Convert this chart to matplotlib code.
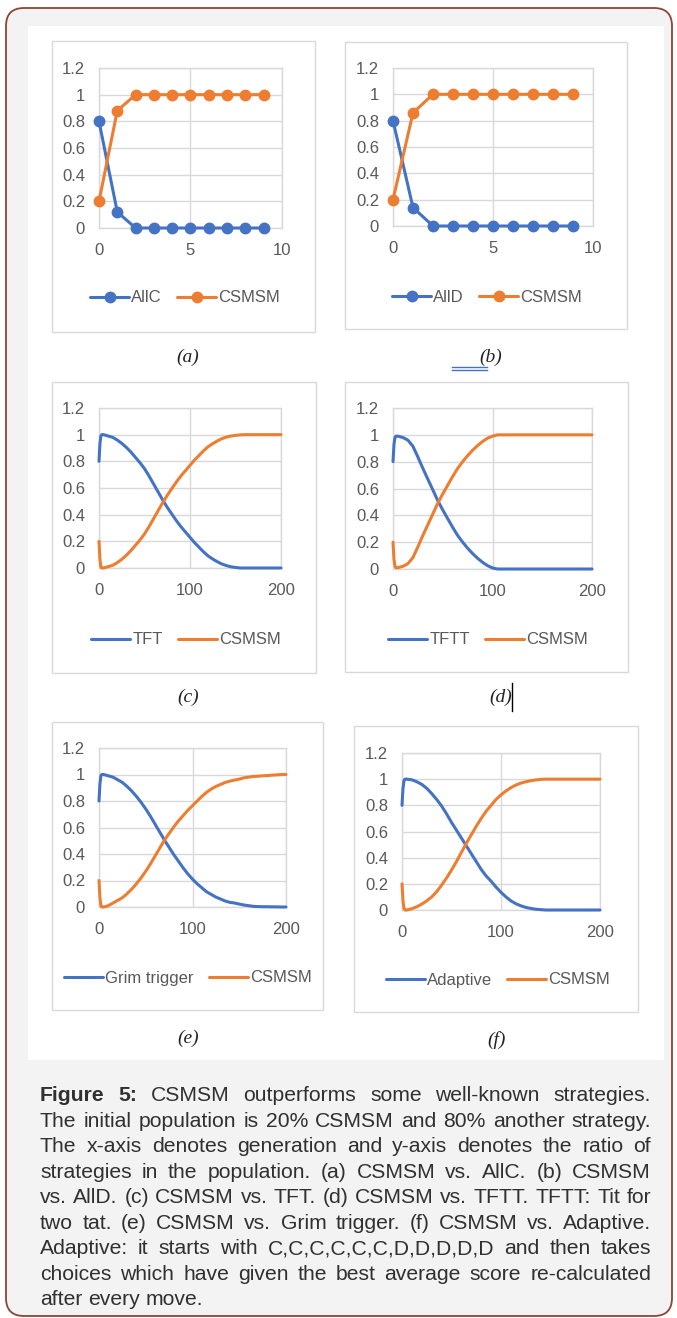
import matplotlib
matplotlib.use("Agg")
import matplotlib.pyplot as plt
from matplotlib.patches import Rectangle, FancyBboxPatch
from matplotlib.lines import Line2D

# ---------------- data ----------------
gen_short = [0, 1, 2, 3, 4, 5, 6, 7, 8, 9]
allc = [0.80, 0.12, 0, 0, 0, 0, 0, 0, 0, 0]
csmsm_a = [0.20, 0.88, 1, 1, 1, 1, 1, 1, 1, 1]
alld = [0.80, 0.14, 0, 0, 0, 0, 0, 0, 0, 0]
csmsm_b = [0.20, 0.86, 1, 1, 1, 1, 1, 1, 1, 1]

gen_long = [0, 1, 2, 3] + list(range(5, 201, 5))

tft = [0.80, 0.93, 0.99, 1.00,
       1.00, 0.99, 0.98, 0.96, 0.935, 0.905, 0.87, 0.83, 0.79, 0.745,
       0.69, 0.63, 0.57, 0.51, 0.455, 0.405, 0.355, 0.31, 0.27, 0.23,
       0.19, 0.155, 0.12, 0.09, 0.067, 0.047, 0.03, 0.018, 0.009, 0.004,
       0.0, 0.0, 0.0, 0.0, 0.0, 0.0, 0.0, 0.0, 0.0, 0.0]
csmsm_c = [0.20, 0.07, 0.01, 0.0,
           0.0, 0.01, 0.02, 0.04, 0.065, 0.095, 0.13, 0.17, 0.21, 0.255,
           0.31, 0.37, 0.43, 0.49, 0.545, 0.595, 0.645, 0.69, 0.73, 0.77,
           0.81, 0.845, 0.88, 0.91, 0.933, 0.953, 0.97, 0.982, 0.99, 0.995,
           0.998, 1.0, 1.0, 1.0, 1.0, 1.0, 1.0, 1.0, 1.0, 1.0]

tftt = [0.80, 0.93, 0.98, 0.99,
        0.99, 0.98, 0.96, 0.915, 0.835, 0.75, 0.67, 0.59, 0.51, 0.44,
        0.375, 0.31, 0.25, 0.20, 0.155, 0.115, 0.08, 0.05, 0.025, 0.008,
        0.0, 0.0, 0.0, 0.0, 0.0, 0.0, 0.0, 0.0, 0.0, 0.0,
        0.0, 0.0, 0.0, 0.0, 0.0, 0.0, 0.0, 0.0, 0.0, 0.0]
csmsm_d = [0.20, 0.07, 0.02, 0.01,
           0.01, 0.02, 0.04, 0.085, 0.165, 0.25, 0.33, 0.41, 0.49, 0.56,
           0.625, 0.69, 0.75, 0.80, 0.845, 0.885, 0.92, 0.95, 0.975, 0.99,
           1.0, 1.0, 1.0, 1.0, 1.0, 1.0, 1.0, 1.0, 1.0, 1.0,
           1.0, 1.0, 1.0, 1.0, 1.0, 1.0, 1.0, 1.0, 1.0, 1.0]

grim = [0.80, 0.93, 0.99, 1.00,
        1.00, 0.99, 0.98, 0.96, 0.94, 0.91, 0.875, 0.835, 0.79, 0.74,
        0.685, 0.625, 0.565, 0.505, 0.45, 0.395, 0.345, 0.295, 0.25, 0.21,
        0.175, 0.145, 0.115, 0.095, 0.075, 0.06, 0.045, 0.035, 0.03, 0.022,
        0.015, 0.01, 0.005, 0.003, 0.002, 0.002, 0.001, 0.001, 0.0, 0.0]
csmsm_e = [0.20, 0.07, 0.01, 0.0,
           0.0, 0.01, 0.03, 0.05, 0.07, 0.10, 0.135, 0.175, 0.22, 0.27,
           0.325, 0.385, 0.445, 0.505, 0.555, 0.605, 0.65, 0.69, 0.73, 0.765,
           0.80, 0.835, 0.865, 0.89, 0.91, 0.925, 0.94, 0.95, 0.958, 0.965,
           0.975, 0.98, 0.985, 0.987, 0.99, 0.992, 0.995, 0.997, 1.0, 1.0]

adaptive = [0.80, 0.93, 0.99, 1.00,
            1.00, 0.995, 0.98, 0.96, 0.93, 0.89, 0.845, 0.795, 0.735, 0.67,
            0.61, 0.55, 0.49, 0.43, 0.37, 0.31, 0.26, 0.22, 0.175, 0.135,
            0.10, 0.07, 0.048, 0.032, 0.02, 0.012, 0.006, 0.003, 0.0, 0.0,
            0.0, 0.0, 0.0, 0.0, 0.0, 0.0, 0.0, 0.0, 0.0, 0.0]
csmsm_f = [0.20, 0.07, 0.01, 0.0,
           0.0, 0.01, 0.025, 0.045, 0.07, 0.10, 0.14, 0.19, 0.245, 0.305,
           0.37, 0.44, 0.51, 0.575, 0.64, 0.70, 0.755, 0.80, 0.845, 0.88,
           0.91, 0.935, 0.955, 0.97, 0.98, 0.988, 0.994, 0.998, 1.0, 1.0,
           1.0, 1.0, 1.0, 1.0, 1.0, 1.0, 1.0, 1.0, 1.0, 1.0]

y_ticks = [0, 0.2, 0.4, 0.6, 0.8, 1, 1.2]
y_tick_labels = ["0", "0.2", "0.4", "0.6", "0.8", "1", "1.2"]

panel_labels = ["(a)", "(b)", "(c)", "(d)", "(e)", "(f)"]

caption_lines = [
    [("Figure", "bold"), ("5:", "bold"), ("CSMSM", "normal"), ("outperforms", "normal"),
     ("some", "normal"), ("well-known", "normal"), ("strategies.", "normal")],
    "The initial population is 20% CSMSM and 80% another strategy.",
    "The x-axis denotes generation and y-axis denotes the ratio of",
    "strategies in the population. (a) CSMSM vs. AllC. (b) CSMSM",
    "vs. AllD. (c) CSMSM vs. TFT. (d) CSMSM vs. TFTT. TFTT: Tit for",
    "two tat. (e) CSMSM vs. Grim trigger. (f) CSMSM vs. Adaptive.",
    "Adaptive: it starts with C,C,C,C,C,C,D,D,D,D,D and then takes",
    "choices which have given the best average score re-calculated",
    "after every move.",
]

# ---------------- styling ----------------
W, H = 677, 1318
DPI = 100
BLUE = "#4472C4"
ORANGE = "#ED7D31"
GRID = "#D9D9D9"
TICK = "#595959"
SANS = ["Liberation Sans", "DejaVu Sans"]
TFS = 12.0  # tick / legend font size (pt)

fig = plt.figure(figsize=(W / DPI, H / DPI), dpi=DPI)
fig.patch.set_facecolor("white")

bg = fig.add_axes([0, 0, 1, 1], zorder=-1)
bg.set_xlim(0, W)
bg.set_ylim(H, 0)
bg.axis("off")

# outer rounded border with light gray page
bg.add_patch(FancyBboxPatch((6, 8), 666, 1308,
                            boxstyle="round,pad=0,rounding_size=18",
                            facecolor="#F3F3F3", edgecolor="#8E4436", lw=1.3))
# white panel holding the charts
bg.add_patch(Rectangle((28, 26), 636, 1034, facecolor="white", edgecolor="none"))

# chart boxes (x0, y0, x1, y1) in pixels
boxes = [(52, 41, 315, 332), (345, 42, 627, 329),
         (52, 382, 316, 673), (345, 382, 628, 672),
         (52, 722, 323, 1010), (354, 726, 638, 1012)]
for (x0, y0, x1, y1) in boxes:
    bg.add_patch(Rectangle((x0, y0), x1 - x0, y1 - y0, facecolor="white",
                           edgecolor=GRID, lw=1.0))

# plot areas (left, top, right, bottom) in pixels
plot_areas = [(99, 68, 282, 228), (393, 68, 593, 226),
              (99, 408, 281, 568), (393, 408, 592, 569),
              (99, 748, 286, 907), (402, 753, 600, 910)]

legend_centers = [(185, 298), (487, 297), (186, 640), (488, 640),
                  (188, 978), (498, 980)]
label_pos = [(188, 357), (491, 357), (188, 697), (501, 697), (188, 1038), (497, 1040)]

series = [
    (gen_short, allc, csmsm_a, "AllC", True, 10),
    (gen_short, alld, csmsm_b, "AllD", True, 10),
    (gen_long, tft, csmsm_c, "TFT", False, 200),
    (gen_long, tftt, csmsm_d, "TFTT", False, 200),
    (gen_long, grim, csmsm_e, "Grim trigger", False, 200),
    (gen_long, adaptive, csmsm_f, "Adaptive", False, 200),
]

for i, (xs, s1, s2, name, markers, xmax) in enumerate(series):
    l, t, r, b = plot_areas[i]
    ax = fig.add_axes([l / W, 1 - b / H, (r - l) / W, (b - t) / H])
    ax.set_facecolor("none")
    kw = dict(lw=2.2, solid_capstyle="round", solid_joinstyle="round")
    if markers:
        kw.update(marker="o", markersize=7.5)
    ax.plot(xs, s1, color=BLUE, label=name, clip_on=False, zorder=3, **kw)
    ax.plot(xs, s2, color=ORANGE, label="CSMSM", clip_on=False, zorder=3, **kw)
    ax.set_xlim(0, xmax)
    ax.set_ylim(0, 1.2)
    ax.set_yticks(y_ticks)
    ax.set_yticklabels(y_tick_labels)
    if xmax == 10:
        ax.set_xticks([0, 5, 10])
    else:
        ax.set_xticks([0, 100, 200])
    ax.grid(True, color=GRID, lw=1.0)
    ax.set_axisbelow(True)
    for sp in ax.spines.values():
        sp.set_color(GRID)
        sp.set_linewidth(1.0)
    ax.tick_params(axis="both", length=0, colors=TICK, labelsize=TFS)
    ax.tick_params(axis="y", pad=10.0)
    ax.tick_params(axis="x", pad=11.0)
    for lab in ax.get_xticklabels() + ax.get_yticklabels():
        lab.set_family(SANS)
    cx, cy = legend_centers[i]
    leg = ax.legend(loc="center", bbox_to_anchor=(cx, cy), bbox_transform=bg.transData,
                    ncol=2, frameon=False, handlelength=2.35, handletextpad=0.12,
                    columnspacing=0.9, borderpad=0, numpoints=1,
                    prop={"family": SANS, "size": TFS})
    for txt in leg.get_texts():
        txt.set_color(TICK)
    lx, ly = label_pos[i]
    bg.text(lx, ly, panel_labels[i], ha="center", va="center", fontsize=14,
            style="italic", family=["Liberation Serif", "DejaVu Serif"], color="#222222")

# Word artefacts: double underline before (b) and text cursor after (d)
bg.add_line(Line2D([452, 487], [366.5, 366.5], color=BLUE, lw=1.0))
bg.add_line(Line2D([452, 487], [370, 370], color=BLUE, lw=1.0))
bg.add_line(Line2D([512, 512], [683, 711], color="black", lw=1.0))

# ---------------- justified caption ----------------
CFS = 15.2
CAP_COLOR = "#303030"
left_x, right_x = 40, 651
base0, lead = 1101, 25.55
renderer = fig.canvas.get_renderer()


def width_of(s, weight):
    t = bg.text(0, 0, s, fontsize=CFS, fontweight=weight, family=SANS)
    w = t.get_window_extent(renderer).width
    t.remove()
    return w


space_w = width_of("a b", "normal") - width_of("ab", "normal")
for li, line in enumerate(caption_lines):
    if isinstance(line, str):
        words = [(w, "normal") for w in line.split()]
    else:
        words = line
    widths = [width_of(w, wt) for (w, wt) in words]
    last = li == len(caption_lines) - 1
    if last or len(words) < 2:
        gap = space_w
    else:
        gap = (right_x - left_x - sum(widths)) / (len(words) - 1)
        gap = max(gap, space_w * 0.6)
    x = left_x
    y = base0 + lead * li
    for (w, wt), ww in zip(words, widths):
        bg.text(x, y, w, fontsize=CFS, fontweight=wt, family=SANS, color=CAP_COLOR,
                ha="left", va="baseline")
        x += ww + gap

fig.savefig("out.png", dpi=DPI, facecolor="white")
